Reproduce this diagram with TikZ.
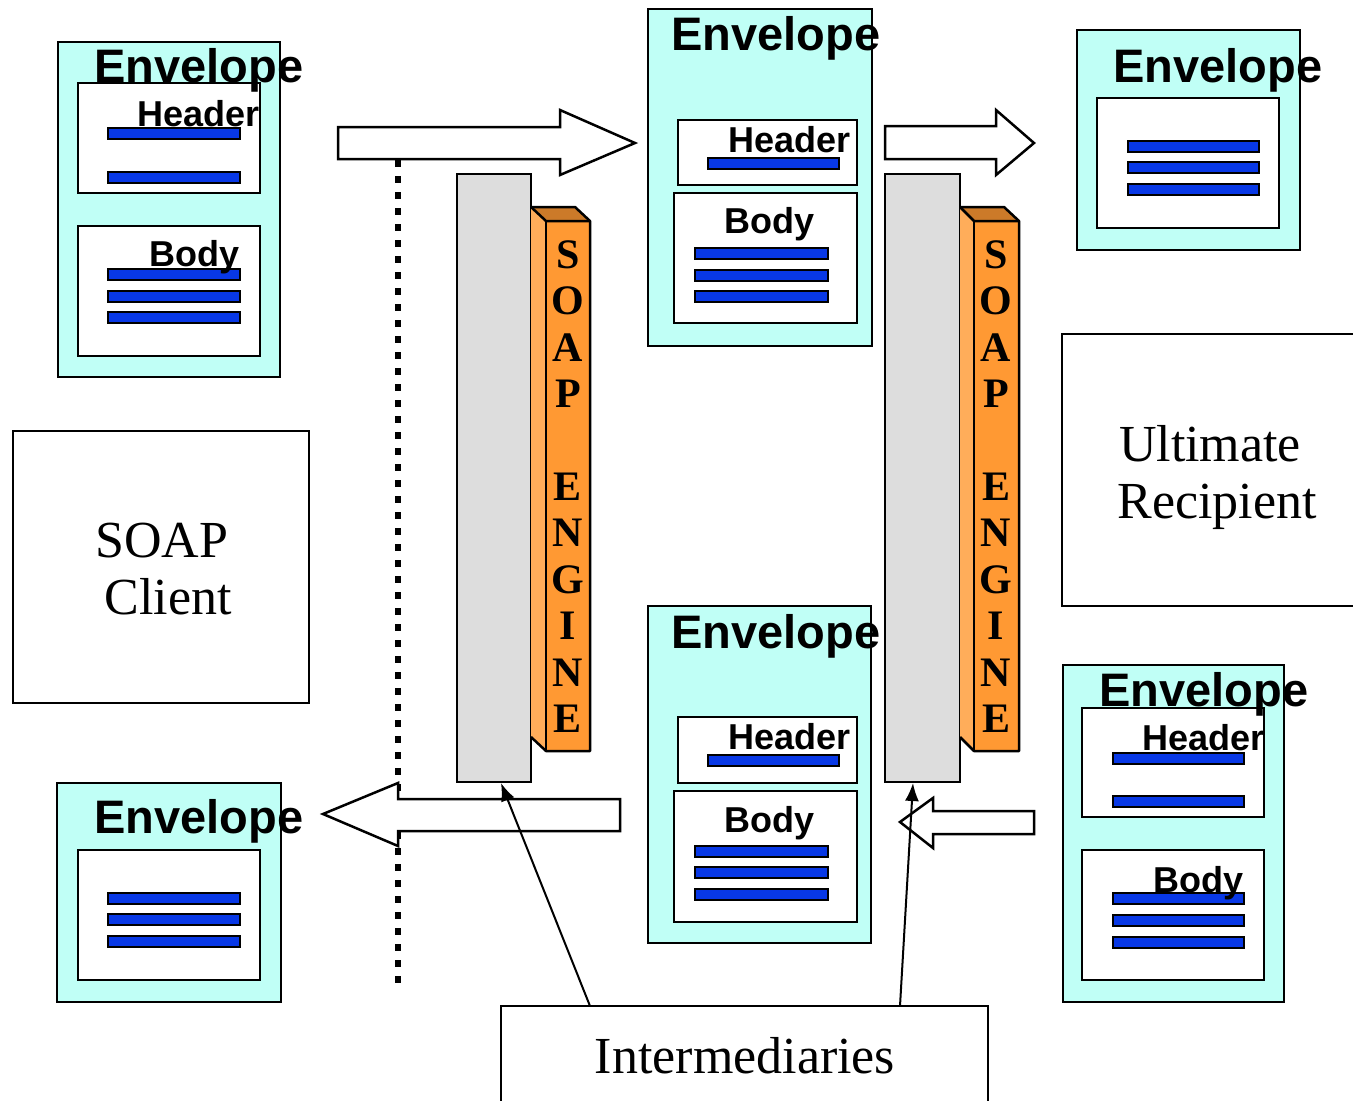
\documentclass[tikz,border=0pt]{standalone}
\usepackage{fontspec}
\setmainfont{Liberation Serif}
\newfontfamily\arialf{Liberation Sans}
\usetikzlibrary{arrows.meta}
\definecolor{envcol}{RGB}{192,255,246}
\definecolor{lineblue}{RGB}{8,56,230}
\definecolor{grayc}{RGB}{221,221,221}
\definecolor{orfront}{RGB}{255,153,51}
\definecolor{orside}{RGB}{255,173,90}
\definecolor{ortop}{RGB}{204,122,41}
\newcommand\bluebar[3]{\draw[bline] (#1,#3) rectangle (#2,#3+11);}
\begin{document}
\begin{tikzpicture}[x=1pt,y=-1pt,
  envbox/.style={draw=black,fill=envcol,line width=2.5pt,anchor=north west,inner sep=0,outer sep=0},
  inbox/.style={draw=black,fill=white,line width=2.5pt,anchor=north west,inner sep=0,outer sep=0},
  plainbox/.style={draw=black,fill=white,line width=2pt,anchor=north west,inner sep=0,outer sep=0},
  graybar/.style={draw=black,fill=grayc,line width=2.5pt,anchor=north west,inner sep=0,outer sep=0},
  bline/.style={draw=black,fill=lineblue,line width=2pt},
  etitle/.style={anchor=base west,inner sep=0,font=\arialf\bfseries\fontsize{47}{47}\selectfont},
  stitle/.style={anchor=base west,inner sep=0,font=\arialf\bfseries\fontsize{36}{36}\selectfont},
  serif/.style={anchor=base,inner sep=0,font=\fontsize{52}{52}\selectfont},
  engl/.style={anchor=base,inner sep=0,font=\bfseries\fontsize{42}{42}\selectfont},
  blockarrow/.style={draw=black,fill=white,line width=2.5pt,line join=miter},
  pointer/.style={draw=black,line width=2pt,-{Latex[length=18pt,width=14pt]}},
  engedge/.style={draw=black,line width=2.5pt,line join=round}]
\useasboundingbox (0,0) rectangle (1353,1101);
\clip (0,0) rectangle (1353,1101);

% ---------- dotted boundary ----------
\draw[line width=6.5pt,dash pattern=on 7pt off 9pt] (398,160) -- (398,984);

% ---------- Envelope 1 (top left) ----------
\node[envbox,minimum width=222pt,minimum height=335pt] (env1) at (58,42) {};
\node[inbox,minimum width=182pt,minimum height=110pt] (hd1) at (78,83) {};
\bluebar{108}{240}{128}
\bluebar{108}{240}{172}
\node[inbox,minimum width=182pt,minimum height=130pt] (bd1) at (78,226) {};
\bluebar{108}{240}{269}
\bluebar{108}{240}{291}
\bluebar{108}{240}{312}
\node[etitle] (et1) at (94,82) {Envelope};
\node[stitle] (ht1) at (137,126) {Header};
\node[stitle] (bt1) at (149,266) {Body};

% ---------- Envelope 2 (top middle) ----------
\node[envbox,minimum width=224pt,minimum height=337pt] (env2) at (648,9) {};
\node[inbox,minimum width=179pt,minimum height=65pt] (hd2) at (678,120) {};
\bluebar{708}{839}{158}
\node[inbox,minimum width=183pt,minimum height=130pt] (bd2) at (674,193) {};
\bluebar{695}{828}{248}
\bluebar{695}{828}{270}
\bluebar{695}{828}{291}
\node[etitle] (et2) at (671,50) {Envelope};
\node[stitle] (ht2) at (728,152) {Header};
\node[stitle] (bt2) at (724,233) {Body};

% ---------- Envelope 3 (top right) ----------
\node[envbox,minimum width=223pt,minimum height=220pt] (env3) at (1077,30) {};
\node[inbox,minimum width=182pt,minimum height=130pt] (bd3) at (1097,98) {};
\bluebar{1128}{1259}{141}
\bluebar{1128}{1259}{162}
\bluebar{1128}{1259}{184}
\node[etitle] (et3) at (1113,82) {Envelope};

% ---------- Envelope 4 (bottom middle) ----------
\node[envbox,minimum width=223pt,minimum height=337pt] (env4) at (648,606) {};
\node[inbox,minimum width=179pt,minimum height=66pt] (hd4) at (678,717) {};
\bluebar{708}{839}{755}
\node[inbox,minimum width=183pt,minimum height=131pt] (bd4) at (674,791) {};
\bluebar{695}{828}{846}
\bluebar{695}{828}{867}
\bluebar{695}{828}{889}
\node[etitle] (et4) at (671,648) {Envelope};
\node[stitle] (ht4) at (728,749) {Header};
\node[stitle] (bt4) at (724,832) {Body};

% ---------- Envelope 5 (bottom right) ----------
\node[envbox,minimum width=221pt,minimum height=337pt] (env5) at (1063,665) {};
\node[inbox,minimum width=182pt,minimum height=109pt] (hd5) at (1082,708) {};
\bluebar{1113}{1244}{753}
\bluebar{1113}{1244}{796}
\node[inbox,minimum width=182pt,minimum height=130pt] (bd5) at (1082,850) {};
\bluebar{1113}{1244}{893}
\bluebar{1113}{1244}{915}
\bluebar{1113}{1244}{937}
\node[etitle] (et5) at (1099,706) {Envelope};
\node[stitle] (ht5) at (1142,750) {Header};
\node[stitle] (bt5) at (1153,892) {Body};

% ---------- Envelope 6 (bottom left) ----------
\node[envbox,minimum width=224pt,minimum height=219pt] (env6) at (57,783) {};
\node[inbox,minimum width=182pt,minimum height=130pt] (bd6) at (78,850) {};
\bluebar{108}{240}{893}
\bluebar{108}{240}{914}
\bluebar{108}{240}{936}
\node[etitle] (et6) at (94,833) {Envelope};

% ---------- SOAP client / recipient / intermediaries ----------
\node[plainbox,minimum width=296pt,minimum height=272pt] (client) at (13,431) {};
\node[serif] (cl1) at (162,557) {SOAP};
\node[serif] (cl2) at (168,614) {Client};
\node[plainbox,minimum width=320pt,minimum height=272pt] (recip) at (1062,334) {};
\node[serif] (rc1) at (1210,461) {Ultimate};
\node[serif] (rc2) at (1217,518) {Recipient};
\node[plainbox,minimum width=487pt,minimum height=140pt] (inter) at (501,1006) {};
\node[serif] (it1) at (745,1073) {Intermediaries};

% ---------- SOAP engines ----------
\node[graybar,minimum width=74pt,minimum height=608pt] (gray1) at (457,174) {};
\fill[orside] (531,207) -- (546,221) -- (546,751) -- (531,737) -- cycle;
\fill[ortop] (531,207) -- (575,207) -- (590,221) -- (546,221) -- cycle;
\fill[orfront] (546,221) rectangle (590,751);
\draw[engedge] (531,737) -- (546,751) -- (590,751) -- (590,221) -- (575,207) -- (531,207);
\draw[engedge] (531,207) -- (546,221) -- (590,221);
\draw[engedge] (546,221) -- (546,751);

\node[graybar,minimum width=75pt,minimum height=608pt] (gray2) at (885,174) {};
\fill[orside] (960,207) -- (974,221) -- (974,751) -- (960,737) -- cycle;
\fill[ortop] (960,207) -- (1004,207) -- (1019,221) -- (974,221) -- cycle;
\fill[orfront] (974,221) rectangle (1019,751);
\draw[engedge] (960,737) -- (974,751) -- (1019,751) -- (1019,221) -- (1004,207) -- (960,207);
\draw[engedge] (960,207) -- (974,221) -- (1019,221);
\draw[engedge] (974,221) -- (974,751);

\foreach \ex/\nm in {568/a,996/b}{
  \node[engl] (S\nm) at (\ex,268) {S};
  \node[engl] (O\nm) at (\ex,314) {O};
  \node[engl] (A\nm) at (\ex,361) {A};
  \node[engl] (P\nm) at (\ex,407) {P};
  \node[engl] (E\nm) at (\ex,500) {E};
  \node[engl] (N\nm) at (\ex,546) {N};
  \node[engl] (G\nm) at (\ex,593) {G};
  \node[engl] (I\nm) at (\ex,639) {I};
  \node[engl] (M\nm) at (\ex,686) {N};
  \node[engl] (F\nm) at (\ex,732) {E};
}

% ---------- block arrows ----------
\draw[blockarrow] (338,127) -- (560,127) -- (560,110) -- (635,143) -- (560,175) -- (560,159) -- (338,159) -- cycle;
\draw[blockarrow] (885,126) -- (996,126) -- (996,110) -- (1034,143) -- (996,175) -- (996,159) -- (885,159) -- cycle;
\draw[blockarrow] (620,799) -- (398,799) -- (398,783) -- (323,814) -- (398,846) -- (398,831) -- (620,831) -- cycle;
\draw[blockarrow] (1034,811) -- (933,811) -- (933,798) -- (900,822) -- (933,848) -- (933,834) -- (1034,834) -- cycle;

% ---------- pointers ----------
\coordinate (p1) at (590,1006);
\coordinate (p2) at (900,1006);
\coordinate (q1) at (501,783);
\coordinate (q2) at (913,783);
\draw[pointer] (p1) -- (q1);
\draw[pointer] (p2) -- (q2);
\end{tikzpicture}
\end{document}
